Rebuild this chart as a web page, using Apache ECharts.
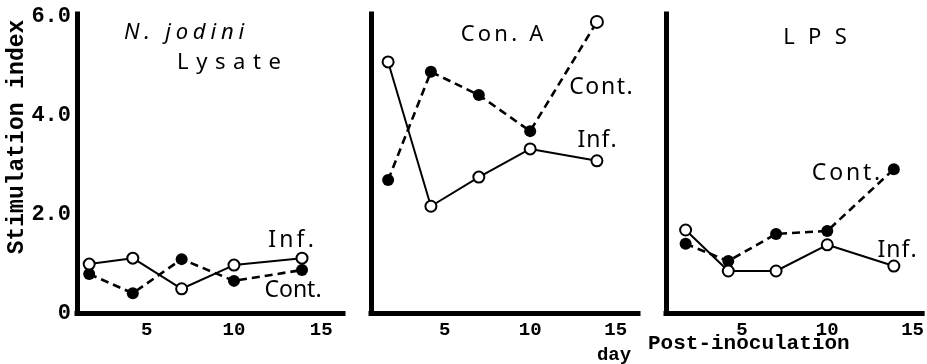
<!DOCTYPE html>
<html><head><meta charset="utf-8">
<script src="https://cdn.jsdelivr.net/npm/echarts@6/dist/echarts.min.js"></script>
<style>html,body{margin:0;padding:0;background:#fff}#c{width:927px;height:364px}</style>
</head><body><div id="c"></div>
<script>
// ---- data ----
const days = [1.7, 4.2, 7, 10, 13.9];
const xTicks = [5, 10, 15];
const yTicks = [0, 2, 4, 6];
const lysateInf  = [0.99, 1.11, 0.49, 0.97, 1.11];
const lysateCont = [0.79, 0.40, 1.09, 0.65, 0.87];
const conAInf    = [5.08, 2.16, 2.75, 3.32, 3.08];
const conACont   = [2.69, 4.88, 4.41, 3.68, 5.89];
const lpsInf     = [1.68, 0.85, 0.85, 1.38, 0.95];
const lpsCont    = [1.40, 1.05, 1.60, 1.66, 2.91];

// ---- layout ----
const panels = [
  {inf: lysateInf, cont: lysateCont, left: 77,  width: 266, xMin: 1.0,  xMax: 16.25, showY: true},
  {inf: conAInf,   cont: conACont,   left: 371, width: 267, xMin: 0.7,  xMax: 16.3,  showY: false},
  {inf: lpsInf,    cont: lpsCont,    left: 666, width: 261, xMin: 0.55, xMax: 15.56, showY: false}
];
const TOP = 14, H = 299, YMAX = 6.05;
const mono = '"Liberation Mono", "DejaVu Sans Mono", monospace';
const sans = '"Noto Sans", "DejaVu Sans", sans-serif';

const grids = [], xAxes = [], yAxes = [], series = [];
panels.forEach((p, i) => {
  grids.push({left: p.left, top: TOP, width: p.width, height: H, containLabel: false});
  xAxes.push({
    type: 'value', gridIndex: i, min: p.xMin, max: p.xMax,
    axisLine: {show: true, onZero: false, lineStyle: {color: '#000', width: 5, cap: 'square'}},
    axisTick: {show: false}, splitLine: {show: false},
    axisLabel: {customValues: xTicks, color: '#000', fontFamily: mono, fontWeight: 'bold', fontSize: 19, margin: 8}
  });
  yAxes.push({
    type: 'value', gridIndex: i, min: 0, max: YMAX,
    axisLine: {show: true, onZero: false, lineStyle: {color: '#000', width: 5, cap: 'square'}},
    axisTick: {show: false}, splitLine: {show: false},
    axisLabel: {show: p.showY, customValues: yTicks, color: '#000', fontFamily: mono,
      fontWeight: 'bold', fontSize: 22, margin: 6,
      formatter: v => v === 0 ? '0' : v.toFixed(1)}
  });
  series.push({
    type: 'line', xAxisIndex: i, yAxisIndex: i, name: 'Cont.',
    data: days.map((d, j) => {
      const item = {value: [d, p.cont[j]]};
      if (i === 1 && j === 4) item.itemStyle = {color: '#fff', borderColor: '#000', borderWidth: 2};
      return item;
    }),
    symbol: 'circle', symbolSize: 12, z: 3,
    itemStyle: {color: '#000', borderColor: '#000', borderWidth: 0},
    lineStyle: {color: '#000', width: 2.6, type: [8, 5]}
  });
  series.push({
    type: 'line', xAxisIndex: i, yAxisIndex: i, name: 'Inf.',
    data: days.map((d, j) => [d, p.inf[j]]),
    symbol: 'circle', symbolSize: 11, z: 4,
    itemStyle: {color: '#fff', borderColor: '#000', borderWidth: 2},
    lineStyle: {color: '#000', width: 2}
  });
});

function spaced(str, pad, size, family, style, weight) {
  return {
    text: str.split('').map(ch => '{p|' + ch + '}').join(''),
    rich: {p: {padding: [0, pad, 0, pad], fontSize: size, fontFamily: family,
      fontStyle: style || 'normal', fontWeight: weight || 'normal', fill: '#000', color: '#000'}},
    fontSize: size, fontFamily: family, fontStyle: style || 'normal', fontWeight: weight || 'normal',
    fill: '#000', textAlign: 'center', textVerticalAlign: 'middle', textBaseline: 'middle'
  };
}
function label(str, cx, cy, pad, size, family, style, weight) {
  return {type: 'text', x: cx, y: cy, z: 10, style: spaced(str, pad, size, family, style, weight)};
}

const graphics = [
  label('N. jodini', 184, 33, 2.4, 22, sans, 'italic'),
  label('Lysate', 229, 63, 3.8, 22, sans),
  label('Con. A', 502, 35, 1.6, 22, sans),
  label('LPS', 815, 38, 6.7, 22, sans),
  label('Inf.', 291, 240, 1.6, 23, sans),
  label('Cont.', 293, 290, 0, 23, sans),
  label('Cont.', 601, 87, 0.8, 23, sans),
  label('Inf.', 597, 140, 0.5, 23, sans),
  label('Cont.', 846, 173, 1.4, 23, sans),
  label('Inf.', 897, 250, 0.5, 23, sans),
  {type: 'text', x: 17, y: 137, rotation: Math.PI / 2, z: 10,
   style: {text: 'Stimulation index', fontSize: 23, fontFamily: mono, fontWeight: 'bold', fill: '#000',
     textAlign: 'center', textVerticalAlign: 'middle', textBaseline: 'middle'}},
  {type: 'text', x: 614, y: 355, z: 10,
   style: {text: 'day', fontSize: 19, fontFamily: mono, fontWeight: 'bold', fill: '#000',
     textAlign: 'center', textVerticalAlign: 'middle', textBaseline: 'middle'}},
  {type: 'text', x: 648, y: 344, z: 10,
   style: {text: 'Post-inoculation', fontSize: 21, fontFamily: mono, fontWeight: 'bold', fill: '#000',
     textAlign: 'left', textVerticalAlign: 'middle', textBaseline: 'middle'}}
];

const chart = echarts.init(document.getElementById('c'));
chart.setOption({
  animation: false,
  backgroundColor: '#fff',
  grid: grids, xAxis: xAxes, yAxis: yAxes, series: series,
  graphic: graphics
});
</script>
</body></html>
